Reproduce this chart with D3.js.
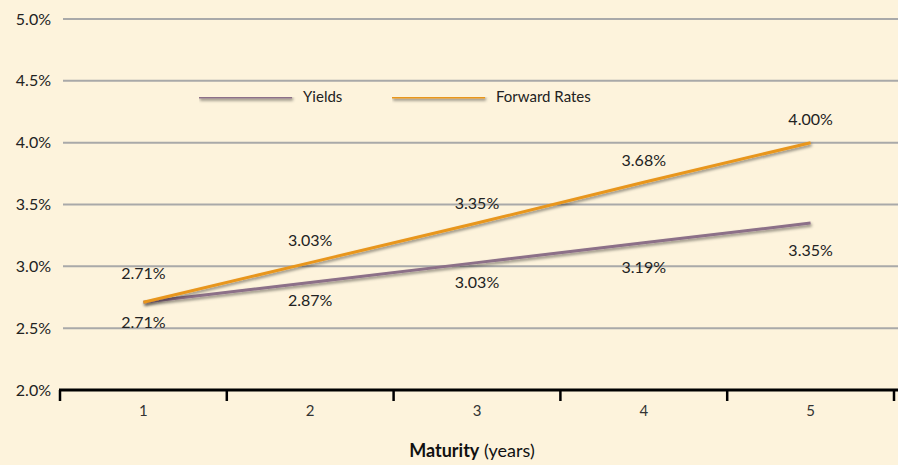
<!DOCTYPE html>
<html>
<head>
<meta charset="utf-8">
<script src="https://cdn.jsdelivr.net/npm/d3@7"></script>
<style>
  body { margin: 0; background: #fdf3dc; }
  svg { display: block; font-family: "Lato", "Open Sans", sans-serif; }
</style>
</head>
<body>
<div class="chart"></div>
<script>
var maturities = ["1", "2", "3", "4", "5"];
var yields = [2.71, 2.87, 3.03, 3.19, 3.35];
var forwards = [2.71, 3.03, 3.35, 3.68, 4.00];
var yTicks = [2.0, 2.5, 3.0, 3.5, 4.0, 4.5, 5.0];

var width = 898, height = 465;

var svg = d3.select(".chart").append("svg")
    .attr("width", width)
    .attr("height", height);

svg.append("rect").attr("width", width).attr("height", height).attr("fill", "#fdf3dc");

// drop shadow for the lines (user space so flat lines still render)
var defs = svg.append("defs");
var f = defs.append("filter").attr("id", "shadow")
    .attr("filterUnits", "userSpaceOnUse")
    .attr("x", 0).attr("y", 0).attr("width", width).attr("height", height);
f.append("feDropShadow")
    .attr("dx", 1).attr("dy", 2).attr("stdDeviation", 1.5)
    .attr("flood-color", "#000").attr("flood-opacity", 0.45);

var x = d3.scaleBand()
    .domain(maturities)
    .range([60, 894]);

var y = d3.scaleLinear()
    .domain([2.0, 5.0])
    .range([390, 19]);

// gridlines
svg.append("g")
  .selectAll("line")
  .data(yTicks.slice(1))
  .enter().append("line")
    .attr("x1", 63).attr("x2", width)
    .attr("y1", function(d) { return y(d); })
    .attr("y2", function(d) { return y(d); })
    .attr("stroke", "#a9a9a9")
    .attr("stroke-width", 2);

// y labels
svg.append("g")
  .selectAll("text")
  .data(yTicks)
  .enter().append("text")
    .attr("x", 51)
    .attr("y", function(d) { return y(d); })
    .attr("dy", "0.35em")
    .attr("text-anchor", "end")
    .attr("font-size", 16)
    .attr("fill", "#222")
    .text(function(d) { return d.toFixed(1) + "%"; });

// x axis
var xAxis = d3.axisBottom(x).tickSize(0).tickPadding(15);
var gx = svg.append("g")
    .attr("transform", "translate(0," + y(2.0) + ")")
    .call(xAxis);
gx.select(".domain").remove();
gx.selectAll("text").attr("font-size", 15).attr("fill", "#333").attr("font-family", "Lato, sans-serif");

svg.append("line")
    .attr("x1", 59).attr("x2", width)
    .attr("y1", y(2.0)).attr("y2", y(2.0))
    .attr("stroke", "#000").attr("stroke-width", 3);

var bounds = maturities.map(function(d) { return x(d); }).concat([x.range()[1]]);
svg.append("g")
  .selectAll("line")
  .data(bounds)
  .enter().append("line")
    .attr("x1", function(d) { return d; })
    .attr("x2", function(d) { return d; })
    .attr("y1", y(2.0)).attr("y2", y(2.0) + 11)
    .attr("stroke", "#000").attr("stroke-width", 2.5);

// lines
var cx = function(i) { return x(maturities[i]) + x.bandwidth() / 2; };
var line = d3.line()
    .x(function(d, i) { return cx(i); })
    .y(function(d) { return y(d); });

svg.append("path")
    .datum(yields)
    .attr("d", line)
    .attr("fill", "none")
    .attr("stroke", "#8c7088")
    .attr("stroke-width", 3)
    .attr("filter", "url(#shadow)");

svg.append("path")
    .datum(forwards)
    .attr("d", line)
    .attr("fill", "none")
    .attr("stroke", "#e8961e")
    .attr("stroke-width", 3)
    .attr("filter", "url(#shadow)");

// data labels
var yOff = [20, 18, 20, 25, 27];
var fOff = [29, 22, 20, 22, 23];

svg.append("g")
  .selectAll("text")
  .data(yields)
  .enter().append("text")
    .attr("x", function(d, i) { return cx(i); })
    .attr("y", function(d, i) { return y(d) + yOff[i]; })
    .attr("dy", "0.35em")
    .attr("text-anchor", "middle")
    .attr("font-size", 16)
    .attr("fill", "#222")
    .text(function(d) { return d.toFixed(2) + "%"; });

svg.append("g")
  .selectAll("text")
  .data(forwards)
  .enter().append("text")
    .attr("x", function(d, i) { return cx(i); })
    .attr("y", function(d, i) { return y(d) - fOff[i]; })
    .attr("dy", "0.35em")
    .attr("text-anchor", "middle")
    .attr("font-size", 16)
    .attr("fill", "#222")
    .text(function(d) { return d.toFixed(2) + "%"; });

// legend
var legend = [
  { name: "Yields", color: "#8c7088", x: 199 },
  { name: "Forward Rates", color: "#e8961e", x: 392 }
];
var lg = svg.append("g").selectAll("g")
    .data(legend)
    .enter().append("g")
    .attr("transform", function(d) { return "translate(" + d.x + ",97)"; });
lg.append("line")
    .attr("x1", 0).attr("x2", 93)
    .attr("stroke", function(d) { return d.color; })
    .attr("stroke-width", 3)
    .attr("filter", "url(#shadow)");
lg.append("text")
    .attr("x", 104)
    .attr("dy", "0.35em")
    .attr("font-size", 15)
    .attr("fill", "#222")
    .text(function(d) { return d.name; });

// axis title
var title = svg.append("text")
    .attr("x", 472)
    .attr("y", 457)
    .attr("text-anchor", "middle")
    .attr("font-size", 18)
    .attr("fill", "#111");
title.append("tspan").attr("font-weight", "bold").text("Maturity");
title.append("tspan").text(" (years)");
</script>
</body>
</html>
